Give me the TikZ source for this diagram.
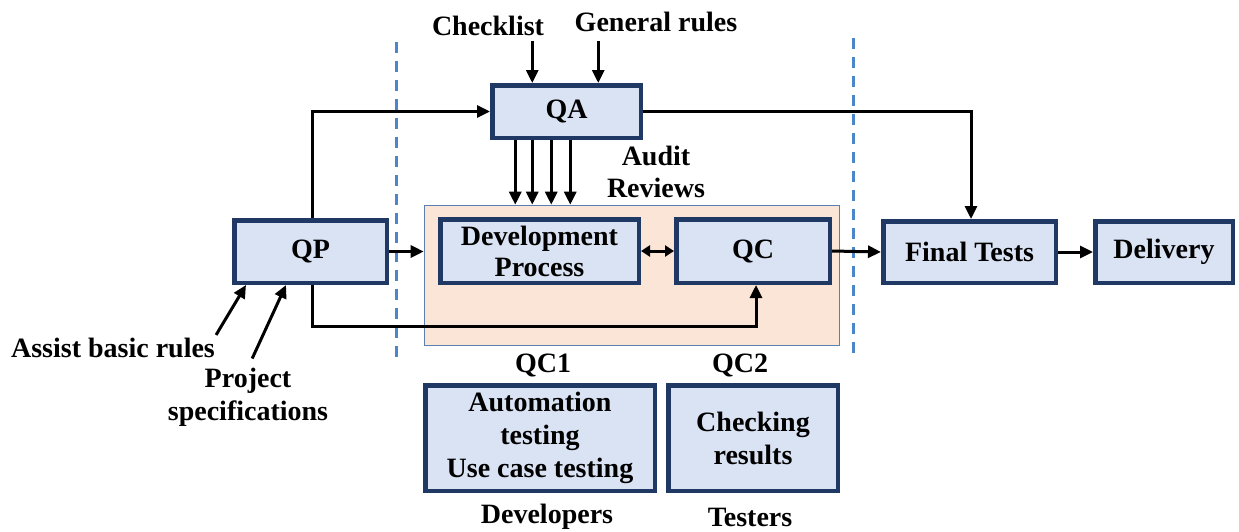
\documentclass[tikz,border=0pt]{standalone}
\usepackage{fontspec}
\setmainfont{Liberation Serif}
\usetikzlibrary{arrows.meta,calc}
\definecolor{boxfill}{HTML}{DAE3F3}
\definecolor{boxline}{HTML}{1F3864}
\definecolor{zonefill}{HTML}{FBE5D6}
\definecolor{zoneline}{HTML}{5B7FAF}
\definecolor{sepline}{HTML}{4A86C8}
\begin{document}
\begin{tikzpicture}[x=1pt,y=-1pt,
  txt/.style={font=\bfseries\fontsize{28}{33}\selectfont},
  box/.style={txt,draw=boxline,fill=boxfill,line width=4.5pt,rectangle,inner sep=0pt,align=center},
  lbl/.style={txt,inner sep=0pt,align=center},
  arr/.style={line width=3pt,-{Triangle[length=13pt,width=12pt]}},
  darr/.style={line width=3pt,{Triangle[length=9pt,width=11pt]}-{Triangle[length=9pt,width=11pt]}},
  sep/.style={draw=sepline,line width=3pt,dash pattern=on 11pt off 8pt}]
\useasboundingbox (0,0) rectangle (1239,531);

% QC zone in the background
\node[draw=zoneline,fill=zonefill,line width=1.6pt,minimum width=415pt,minimum height=140pt,inner sep=0pt] (zone) at (632,275.5) {};

% separators
\coordinate (s1a) at (396,42);  \coordinate (s1b) at (396,365);
\coordinate (s2a) at (853,38);  \coordinate (s2b) at (853,360);
\draw[sep] (s1a) -- (s1b);
\draw[sep] (s2a) -- (s2b);

% process boxes
\node[box,minimum width=148.5pt,minimum height=52.5pt] (QA) at (566.5,111.5) {QA};
\node[box,minimum width=152.5pt,minimum height=62.5pt] (QP) at (310.5,251.5) {QP};
\node[box,minimum width=198.5pt,minimum height=63.5pt] (Dev) at (539.5,251) {Development\\[-2pt]Process};
\node[box,minimum width=153.5pt,minimum height=63.5pt] (QC) at (753,251) {QC};
\node[box,minimum width=172.5pt,minimum height=61.5pt] (Fin) at (969.5,252) {Final Tests};
\node[box,minimum width=137.5pt,minimum height=61.5pt] (Del) at (1164,252) {Delivery};
\node[box,minimum width=229.5pt,minimum height=105.5pt] (B1) at (540,438) {Automation\\testing\\Use case testing};
\node[box,minimum width=169.5pt,minimum height=105.5pt] (B2) at (753,438) {Checking\\results};

% labels
\node[lbl] (chk) at (488,26) {Checklist};
\node[lbl] (gen) at (656,22) {General rules};
\node[lbl] (aud) at (656,172) {Audit\\[-1pt]Reviews};
\node[lbl] (asb) at (113,348) {Assist basic rules};
\node[lbl] (prj) at (248,397) {Project\\specifications};
\node[lbl] (qc1) at (543,365) {QC1};
\node[lbl] (qc2) at (740,365) {QC2};
\node[lbl] (dvl) at (547,517) {Developers};
\node[lbl] (tst) at (750,517) {Testers};

% inputs to QA
\coordinate (qa1) at ($(QA.north west)+(42.25,0)$);
\coordinate (qa2) at ($(QA.north west)+(108.25,0)$);
\draw[arr,shorten <=5pt] (qa1 |- chk.south) -- (qa1);
\draw[arr,shorten <=9pt] (qa2 |- gen.south) -- (qa2);

% audits and reviews from QA into the QC zone
\foreach \dx [count=\i] in {25.25,42.25,61.25,80.25} {
  \coordinate (au\i) at ($(QA.south west)+(\dx,0)$);
  \draw[arr] (au\i) -- (au\i |- zone.north);
}

% inputs to QP
\coordinate (qp1) at ($(QP.south west)+(14,0)$);
\coordinate (qp2) at ($(QP.south west)+(54,0)$);
\draw[arr] ($(asb.north east)+(1,-3)$) -- (qp1);
\draw[arr,shorten <=10pt] (prj.north) -- (qp2);

% main flow
\draw[arr] ($(QP.north)+(1.5,0)$) |- (QA.west);
\draw[arr] (QA.east) -| ($(Fin.north)+(1.5,0)$);
\draw[arr] (QP.east) -- (QP.east -| zone.west);
\draw[darr] (Dev.east) -- (QC.west);
\coordinate (qpd) at ($(QP.south)+(1.5,41)$);
\draw[arr] ($(QP.south)+(1.5,0)$) -- (qpd) -| ($(QC.south)+(3,0)$);
\draw[arr] (QC.east) -- (Fin.west);
\draw[arr] (Fin.east) -- (Del.west);
\end{tikzpicture}
\end{document}
